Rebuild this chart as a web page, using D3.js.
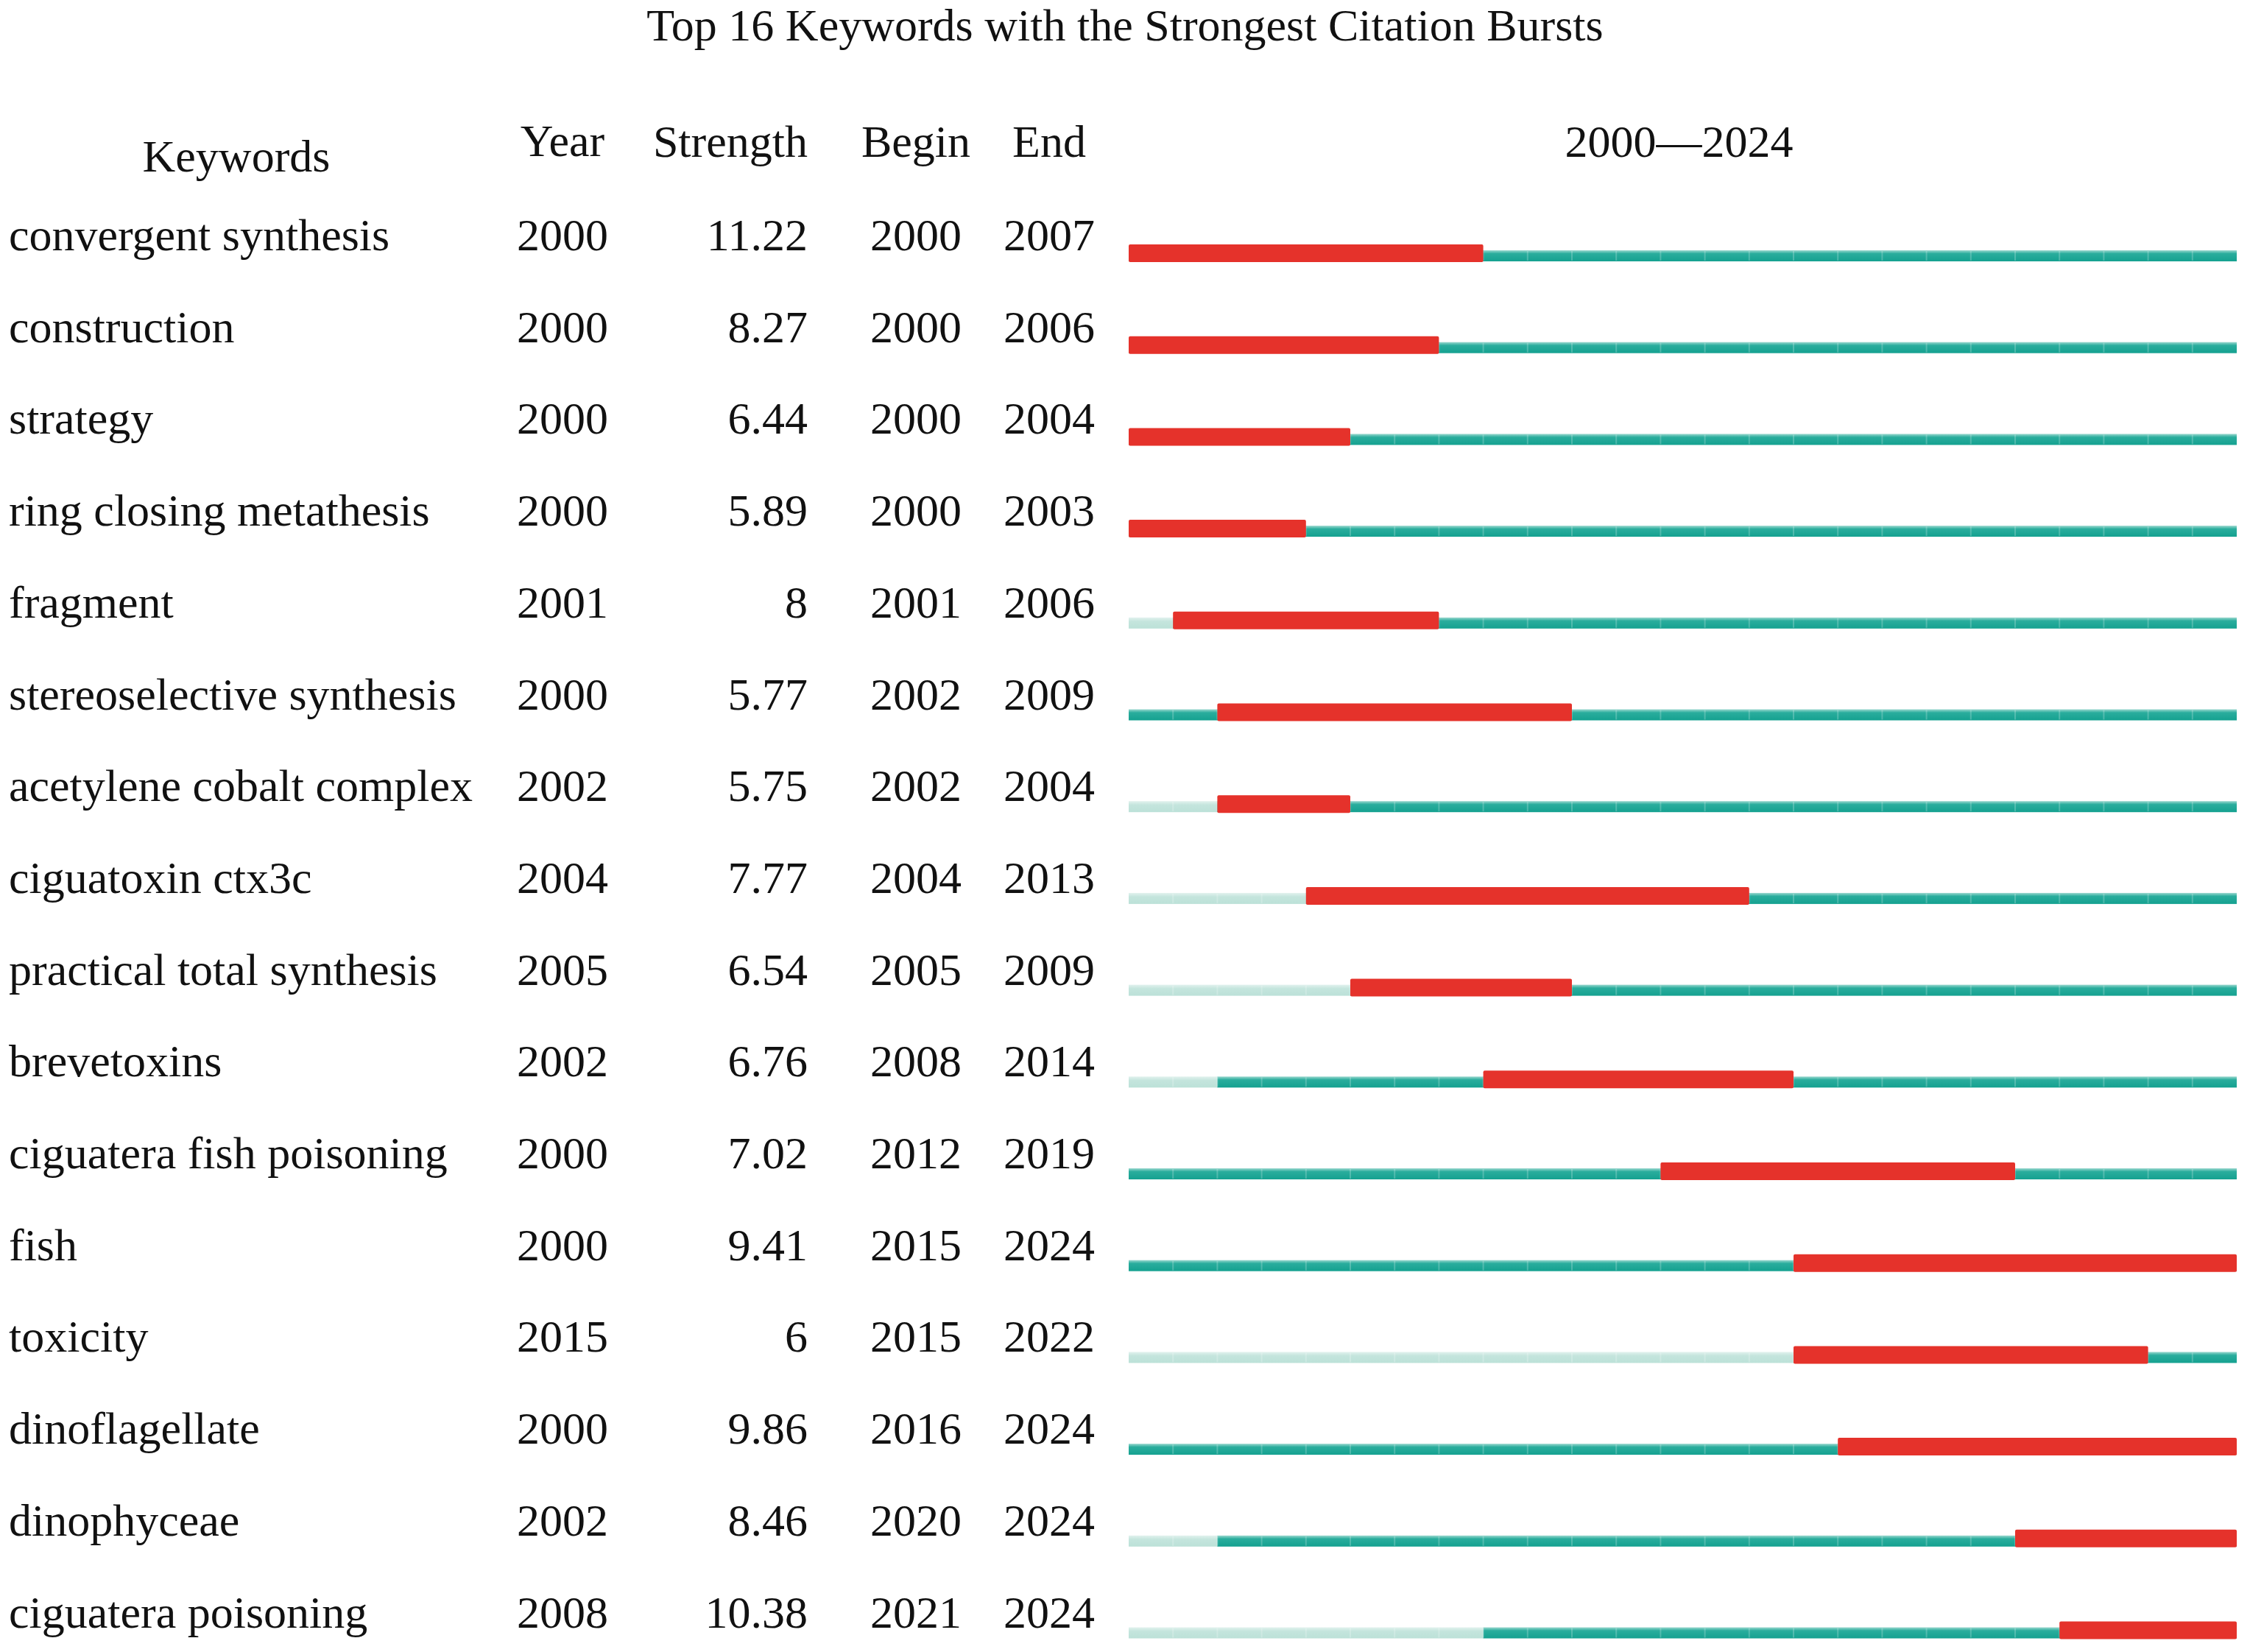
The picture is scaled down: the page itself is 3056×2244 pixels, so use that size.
<!DOCTYPE html>
<html>
<head>
<meta charset="utf-8">
<script src="https://cdn.jsdelivr.net/npm/d3@7"></script>
<style>
  html, body { margin: 0; padding: 0; background: #fff; }
  svg { display: block; }
</style>
</head>
<body>
<script>
// ---- data ----
const keywords = ["convergent synthesis", "construction", "strategy", "ring closing metathesis",
  "fragment", "stereoselective synthesis", "acetylene cobalt complex", "ciguatoxin ctx3c",
  "practical total synthesis", "brevetoxins", "ciguatera fish poisoning", "fish", "toxicity",
  "dinoflagellate", "dinophyceae", "ciguatera poisoning"];
const years     = [2000, 2000, 2000, 2000, 2001, 2000, 2002, 2004, 2005, 2002, 2000, 2000, 2015, 2000, 2002, 2008];
const strengths = ["11.22", "8.27", "6.44", "5.89", "8", "5.77", "5.75", "7.77", "6.54", "6.76", "7.02", "9.41", "6", "9.86", "8.46", "10.38"];
const begins    = [2000, 2000, 2000, 2000, 2001, 2002, 2002, 2004, 2005, 2008, 2012, 2015, 2015, 2016, 2020, 2021];
const ends      = [2007, 2006, 2004, 2003, 2006, 2009, 2004, 2013, 2009, 2014, 2019, 2024, 2022, 2024, 2024, 2024];
const startYear = 2000, endYear = 2024;
const title = "Top 16 Keywords with the Strongest Citation Bursts";
const headers = ["Keywords", "Year", "Strength", "Begin", "End", startYear + "\u2014" + endYear];

const rows = keywords.map((k, i) => ({ k, year: years[i], s: strengths[i], b: begins[i], e: ends[i] }));

// ---- layout ----
const W = 3056, H = 2244;
const font = "'Liberation Serif', 'Times New Roman', serif";
const fs = 62;
const colors = { red: "#e5322b", pale: "#c2e4dc" };

const svg = d3.select("body").append("svg").attr("width", W).attr("height", H)
  .style("font-family", font);

const defs = svg.append("defs");
const tg = defs.append("linearGradient").attr("id", "teal").attr("x1", 0).attr("y1", 0).attr("x2", 0).attr("y2", 1);
tg.append("stop").attr("offset", "0%").attr("stop-color", "#9bd8cf");
tg.append("stop").attr("offset", "30%").attr("stop-color", "#2aad9d");
tg.append("stop").attr("offset", "100%").attr("stop-color", "#15a190");
const pg = defs.append("linearGradient").attr("id", "pale").attr("x1", 0).attr("y1", 0).attr("x2", 0).attr("y2", 1);
pg.append("stop").attr("offset", "0%").attr("stop-color", "#e2f2ee");
pg.append("stop").attr("offset", "35%").attr("stop-color", "#c4e5dd");
pg.append("stop").attr("offset", "100%").attr("stop-color", "#bce1d8");

const x = d3.scaleLinear().domain([startYear, endYear + 1]).range([1533, 3038]);
const y = d3.scalePoint().domain(d3.range(rows.length)).range([340, 340 + 15 * 124.7]);

// title
svg.append("text").attr("x", W / 2).attr("y", 55).attr("text-anchor", "middle")
  .attr("font-size", fs).attr("fill", "#111").text(title);

// headers
const headerPos = [
  { x: 321, y: 233, a: "middle" },
  { x: 764, y: 212, a: "middle" },
  { x: 1097, y: 213, a: "end" },
  { x: 1244, y: 213, a: "middle" },
  { x: 1425, y: 213, a: "middle" },
  { x: (x.range()[0] + x.range()[1]) / 2 - 5, y: 213, a: "middle" }
];
svg.append("g").selectAll("text").data(headers).join("text")
  .attr("x", (d, i) => headerPos[i].x).attr("y", (d, i) => headerPos[i].y)
  .attr("text-anchor", (d, i) => headerPos[i].a)
  .attr("font-size", fs).attr("fill", "#111").text(d => d);

// table text
const g = svg.append("g").selectAll("g").data(rows).join("g")
  .attr("transform", (d, i) => `translate(0,${y(i)})`);
g.append("text").attr("x", 12).attr("font-size", fs).attr("fill", "#111").text(d => d.k);
g.append("text").attr("x", 764).attr("text-anchor", "middle").attr("font-size", fs).attr("fill", "#111").text(d => d.year);
g.append("text").attr("x", 1097).attr("text-anchor", "end").attr("font-size", fs).attr("fill", "#111").text(d => d.s);
g.append("text").attr("x", 1244).attr("text-anchor", "middle").attr("font-size", fs).attr("fill", "#111").text(d => d.b);
g.append("text").attr("x", 1425).attr("text-anchor", "middle").attr("font-size", fs).attr("fill", "#111").text(d => d.e);

// bars
const thin = 15, thick = 24;
// pale segment (before keyword first appears)
g.filter(d => d.year > startYear).append("rect")
  .attr("x", x(startYear)).attr("y", 0)
  .attr("width", d => x(d.year) - x(startYear)).attr("height", thin)
  .attr("fill", "url(#pale)");
// teal segment
g.append("rect")
  .attr("x", d => x(d.year)).attr("y", 0)
  .attr("width", d => x(endYear + 1) - x(d.year)).attr("height", thin)
  .attr("fill", "url(#teal)");
// year separators
const yearTicks = d3.range(startYear + 1, endYear + 1);
g.each(function () {
  d3.select(this).append("g").selectAll("line").data(yearTicks).join("line")
    .attr("x1", t => x(t)).attr("x2", t => x(t))
    .attr("y1", 1).attr("y2", thin - 1)
    .attr("stroke", "#ffffff").attr("stroke-opacity", 0.22).attr("stroke-width", 2);
});
// burst segment
g.append("rect")
  .attr("x", d => x(d.b)).attr("y", -8)
  .attr("width", d => x(d.e + 1) - x(d.b)).attr("height", thick)
  .attr("rx", 2).attr("fill", colors.red);
</script>
</body>
</html>
